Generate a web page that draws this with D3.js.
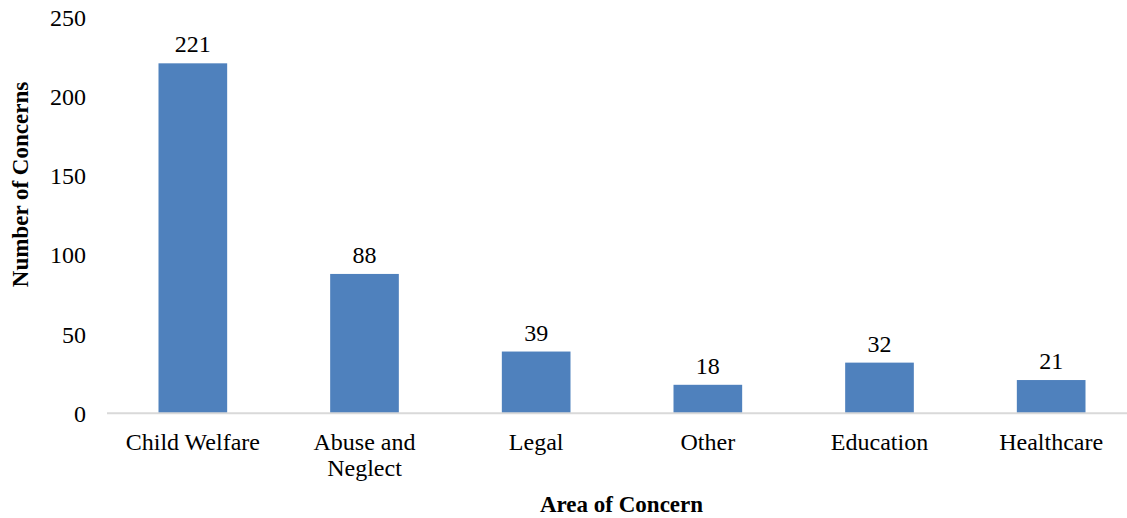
<!DOCTYPE html>
<html>
<head>
<meta charset="utf-8">
<script src="https://cdn.jsdelivr.net/npm/d3@7"></script>
<style>
  html, body { margin: 0; padding: 0; background: #fff; }
  svg { display: block; }
  text { font-family: "Liberation Serif", "Times New Roman", serif; fill: #000; }
</style>
</head>
<body>
<div id="chart"></div>
<script>
// Concerns by area
const categories = ["Child Welfare", "Abuse and Neglect", "Legal", "Other", "Education", "Healthcare"];
const categoryLines = [["Child Welfare"], ["Abuse and", "Neglect"], ["Legal"], ["Other"], ["Education"], ["Healthcare"]];
const counts = [221, 88, 39, 18, 32, 21];
const yTicks = [0, 50, 100, 150, 200, 250];

const width = 1127, height = 518;
const fontSize = 24;

const svg = d3.select("#chart").append("svg")
  .attr("width", width).attr("height", height);

const x = d3.scaleBand()
  .domain(categories)
  .range([107, 1137])
  .paddingInner(0.6)
  .paddingOuter(0.3);

const y = d3.scaleLinear()
  .domain([0, 250])
  .range([413.3, 17.4]);

// Bars
svg.append("g").selectAll("rect")
  .data(categories)
  .join("rect")
  .attr("x", d => x(d))
  .attr("width", x.bandwidth())
  .attr("y", (d, i) => y(counts[i]))
  .attr("height", (d, i) => y(0) - y(counts[i]))
  .attr("fill", "#4F81BD");

// Category axis line
svg.append("line")
  .attr("x1", 107).attr("x2", 1137)
  .attr("y1", y(0)).attr("y2", y(0))
  .attr("stroke", "#D9D9D9").attr("stroke-width", 2);

// Value axis tick labels
svg.append("g").selectAll("text")
  .data(yTicks)
  .join("text")
  .attr("x", 86)
  .attr("y", d => y(d))
  .attr("dy", "0.35em")
  .attr("text-anchor", "end")
  .style("font-size", fontSize + "px")
  .text(d => d);

// Category labels (wrapped)
const catG = svg.append("g").selectAll("text")
  .data(categories)
  .join("text")
  .attr("text-anchor", "middle")
  .style("font-size", fontSize + "px")
  .attr("x", d => x(d) + x.bandwidth() / 2)
  .attr("y", 450);
catG.each(function(d, i) {
  d3.select(this).selectAll("tspan")
    .data(categoryLines[i])
    .join("tspan")
    .attr("x", x(d) + x.bandwidth() / 2)
    .attr("dy", (t, j) => j === 0 ? 0 : 26)
    .text(t => t);
});

// Data labels
svg.append("g").selectAll("text")
  .data(categories)
  .join("text")
  .attr("text-anchor", "middle")
  .style("font-size", fontSize + "px")
  .attr("x", d => x(d) + x.bandwidth() / 2)
  .attr("y", (d, i) => y(counts[i]) - 11)
  .text((d, i) => counts[i]);

// Axis titles
svg.append("text")
  .attr("x", 621.5).attr("y", 512)
  .attr("text-anchor", "middle")
  .style("font-size", "23px")
  .style("font-weight", "bold")
  .text("Area of Concern");

svg.append("text")
  .attr("transform", "translate(28,184.5) rotate(-90)")
  .attr("text-anchor", "middle")
  .style("font-size", "23px")
  .style("font-weight", "bold")
  .text("Number of Concerns");
</script>
</body>
</html>
